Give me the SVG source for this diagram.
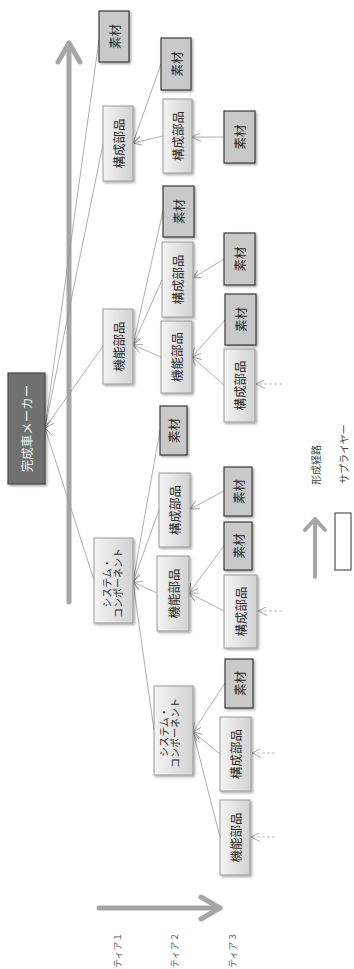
<svg xmlns="http://www.w3.org/2000/svg" width="354" height="969" viewBox="0 0 354 969">
<style>
  text { font-family: "Noto Sans CJK JP", "Noto Sans", sans-serif; fill: #2a2a2a; }
  .lbl { font-size: 12.5px; text-anchor: middle; dominant-baseline: central; }
  .sys { font-size: 10px; text-anchor: middle; dominant-baseline: central; }
  .leg { font-size: 10px; dominant-baseline: central; fill: #444; }
  .dark rect { fill: #c9c9c9; stroke: #3a3a3a; stroke-width: 1.2; }
  .light rect { fill: url(#lg); stroke: #9a9a9a; stroke-width: 1; }
  .conn line { stroke: #9a9a9a; stroke-width: 0.8; marker-end: url(#ah); }
  .conn line.dash { stroke: #aaa; stroke-dasharray: 3 2; }
  .big { stroke: #a6a6a6; fill: none; stroke-linecap: round; stroke-linejoin: round; }
</style>
<defs>
  <linearGradient id="lg" x1="0" y1="0" x2="1" y2="0">
    <stop offset="0" stop-color="#f4f4f4"/>
    <stop offset="1" stop-color="#d2d2d2"/>
  </linearGradient>
  <filter id="sh" x="-20%" y="-20%" width="150%" height="150%">
    <feDropShadow dx="1.5" dy="1.5" stdDeviation="1" flood-color="#000" flood-opacity="0.35"/>
  </filter>
  <marker id="ah" viewBox="0 0 10 10" refX="10" refY="5" markerWidth="9" markerHeight="9" markerUnits="userSpaceOnUse" orient="auto">
    <path d="M0,0 L10,5 L0,10" fill="none" stroke="#9a9a9a" stroke-width="1"/>
  </marker>
</defs>

<!-- big arrows -->
<g id="path-arrow">
  <line class="big" x1="69" y1="602" x2="69" y2="43" stroke-width="5"/>
  <polyline class="big" points="58,62 69,43 80,62" stroke-width="5"/>
</g>
<g id="tier-arrow">
  <line class="big" x1="99" y1="908" x2="220" y2="908" stroke-width="5"/>
  <polyline class="big" points="201,897 220,908 201,919" stroke-width="5"/>
</g>

<g class="conn">
  <line x1="99" y1="40" x2="45" y2="428"/>
  <line x1="103" y1="144" x2="45" y2="428"/>
  <line x1="103" y1="346" x2="45" y2="428"/>
  <line x1="94" y1="580" x2="45" y2="428"/>
  <line x1="161" y1="64" x2="133" y2="143"/>
  <line x1="163" y1="136" x2="133" y2="143"/>
  <line x1="224" y1="137" x2="192" y2="137"/>
  <line x1="163" y1="211" x2="133" y2="345"/>
  <line x1="162" y1="280" x2="133" y2="345"/>
  <line x1="161" y1="357" x2="133" y2="345"/>
  <line x1="224" y1="259" x2="193" y2="278"/>
  <line x1="225" y1="320" x2="192" y2="357"/>
  <line x1="224" y1="385" x2="192" y2="357"/>
  <line x1="160" y1="430" x2="133" y2="582"/>
  <line x1="159" y1="510" x2="133" y2="582"/>
  <line x1="157" y1="593" x2="133" y2="582"/>
  <line x1="154" y1="730" x2="133" y2="582"/>
  <line x1="224" y1="491" x2="190" y2="509"/>
  <line x1="224" y1="546" x2="189" y2="593"/>
  <line x1="224" y1="611" x2="189" y2="593"/>
  <line x1="225" y1="683" x2="193" y2="732"/>
  <line x1="220" y1="754" x2="193" y2="732"/>
  <line x1="220" y1="837" x2="193" y2="732"/>
  <line class="dash" x1="282" y1="384" x2="256" y2="384"/>
  <line class="dash" x1="282" y1="611" x2="258" y2="611"/>
  <line class="dash" x1="275" y1="753" x2="252" y2="753"/>
  <line class="dash" x1="275" y1="837" x2="251" y2="837"/>
</g>

<!-- 完成車メーカー -->
<g id="maker">
  <rect x="8" y="373" width="37" height="111" fill="#707070" stroke="#4a4a4a" stroke-width="1.2" filter="url(#sh)"/>
  <text class="lbl" transform="translate(26.5,428.5) rotate(-90)" style="fill:#f0f0f0">完成車メーカー</text>
</g>

<!-- 素材 boxes -->
<g id="mat-a" class="dark"><rect x="99" y="11" width="30" height="51" filter="url(#sh)"/><text class="lbl" transform="translate(114,36.5) rotate(-90)">素材</text></g>
<g id="mat-b" class="dark"><rect x="161" y="38" width="30" height="52" filter="url(#sh)"/><text class="lbl" transform="translate(176,64) rotate(-90)">素材</text></g>
<g id="mat-e" class="dark"><rect x="224" y="111" width="31" height="52" filter="url(#sh)"/><text class="lbl" transform="translate(239.5,137) rotate(-90)">素材</text></g>
<g id="mat-f" class="dark"><rect x="163" y="186" width="31" height="51" filter="url(#sh)"/><text class="lbl" transform="translate(178.5,211.5) rotate(-90)">素材</text></g>
<g id="mat-h" class="dark"><rect x="224" y="233" width="31" height="52" filter="url(#sh)"/><text class="lbl" transform="translate(239.5,259) rotate(-90)">素材</text></g>
<g id="mat-i" class="dark"><rect x="225" y="294" width="31" height="51" filter="url(#sh)"/><text class="lbl" transform="translate(240.5,319.5) rotate(-90)">素材</text></g>
<g id="mat-n" class="dark"><rect x="160" y="406" width="27" height="49" filter="url(#sh)"/><text class="lbl" transform="translate(173.5,430.5) rotate(-90)">素材</text></g>
<g id="mat-p" class="dark"><rect x="224" y="467" width="28" height="49" filter="url(#sh)"/><text class="lbl" transform="translate(238,491.5) rotate(-90)">素材</text></g>
<g id="mat-q" class="dark"><rect x="224" y="522" width="28" height="48" filter="url(#sh)"/><text class="lbl" transform="translate(238,546) rotate(-90)">素材</text></g>
<g id="mat-u" class="dark"><rect x="225" y="659" width="28" height="49" filter="url(#sh)"/><text class="lbl" transform="translate(239,683.5) rotate(-90)">素材</text></g>

<!-- light boxes -->
<g id="part-c" class="light"><rect x="103" y="106" width="30" height="75" filter="url(#sh)"/><text class="lbl" transform="translate(118,143.5) rotate(-90)">構成部品</text></g>
<g id="part-d" class="light"><rect x="163" y="99" width="29" height="74" filter="url(#sh)"/><text class="lbl" transform="translate(177.5,136) rotate(-90)">構成部品</text></g>
<g id="part-g" class="light"><rect x="162" y="242" width="31" height="75" filter="url(#sh)"/><text class="lbl" transform="translate(177.5,279.5) rotate(-90)">構成部品</text></g>
<g id="func-j" class="light"><rect x="103" y="309" width="30" height="75" filter="url(#sh)"/><text class="lbl" transform="translate(118,346.5) rotate(-90)">機能部品</text></g>
<g id="func-k" class="light"><rect x="161" y="321" width="31" height="72" filter="url(#sh)"/><text class="lbl" transform="translate(176.5,357) rotate(-90)">機能部品</text></g>
<g id="part-l" class="light"><rect x="224" y="349" width="31" height="73" filter="url(#sh)"/><text class="lbl" transform="translate(239.5,385.5) rotate(-90)">構成部品</text></g>
<g id="part-o" class="light"><rect x="159" y="473" width="31" height="74" filter="url(#sh)"/><text class="lbl" transform="translate(174.5,510) rotate(-90)">構成部品</text></g>
<g id="sys-r" class="light"><rect x="94" y="538" width="39" height="85" filter="url(#sh)"/>
  <text class="sys" transform="translate(106,583) rotate(-90)">システム・</text>
  <text class="sys" transform="translate(117,583) rotate(-90)">コンポーネント</text></g>
<g id="func-s" class="light"><rect x="157" y="556" width="32" height="75" filter="url(#sh)"/><text class="lbl" transform="translate(173,593.5) rotate(-90)">機能部品</text></g>
<g id="part-t" class="light"><rect x="224" y="575" width="33" height="73" filter="url(#sh)"/><text class="lbl" transform="translate(240.5,611.5) rotate(-90)">構成部品</text></g>
<g id="sys-v" class="light"><rect x="154" y="686" width="39" height="89" filter="url(#sh)"/>
  <text class="sys" transform="translate(163,732) rotate(-90)">システム・</text>
  <text class="sys" transform="translate(174,733) rotate(-90)">コンポーネント</text></g>
<g id="part-w" class="light"><rect x="220" y="717" width="31" height="74" filter="url(#sh)"/><text class="lbl" transform="translate(235.5,754) rotate(-90)">構成部品</text></g>
<g id="func-x" class="light"><rect x="220" y="800" width="30" height="75" filter="url(#sh)"/><text class="lbl" transform="translate(235,837.5) rotate(-90)">機能部品</text></g>

<!-- legend -->
<g id="legend">
  <line class="big" x1="315" y1="577" x2="315" y2="519" stroke-width="4"/>
  <polyline class="big" points="305,530 315,519 325,530" stroke-width="4"/>
  <text class="leg" transform="translate(315,485) rotate(-90)">形成経路</text>
  <rect x="335" y="513" width="16" height="57" fill="#fff" stroke="#333" stroke-width="1"/>
  <text class="leg" transform="translate(343,484) rotate(-90)">サプライヤー</text>
</g>

<!-- tier labels -->
<g id="tiers">
  <text class="leg" style="font-size:9px;fill:#555" transform="translate(117,968) rotate(-90)">ティア１</text>
  <text class="leg" style="font-size:9px;fill:#555" transform="translate(174,968) rotate(-90)">ティア２</text>
  <text class="leg" style="font-size:9px;fill:#555" transform="translate(232,968) rotate(-90)">ティア３</text>
</g>
</svg>
